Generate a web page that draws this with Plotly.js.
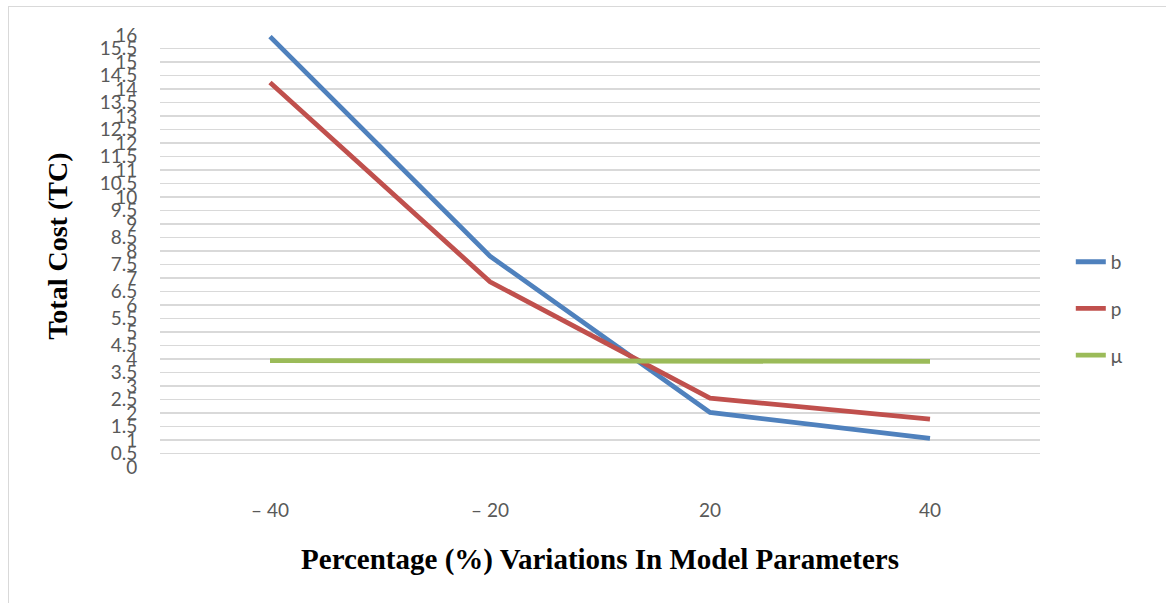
<!DOCTYPE html>
<html>
<head>
<meta charset="utf-8">
<script src="https://cdn.plot.ly/plotly-3.0.1.min.js"></script>
<style>
html,body{margin:0;padding:0;background:#fff;}
#frame{position:absolute;left:8px;top:6px;width:1160px;height:600px;border-left:1px solid #d9d9d9;border-top:1px solid #d9d9d9;}
#chart{position:absolute;left:0;top:0;width:1166px;height:603px;}
</style>
</head>
<body>
<div id="frame"></div>
<div id="chart"></div>
<script>
const categories = ["\u2013 40", "\u2013 20", "20", "40"];
const bValues = [15.94, 7.81, 2.02, 1.06];
const pValues = [14.24, 6.86, 2.55, 1.77];
const muValues = [3.94, 3.93, 3.92, 3.91];
const yTickVals = [];
for (let i = 0; i <= 32; i++) yTickVals.push(i / 2);
const yTickText = yTickVals.map(v => String(v));

const lineStyle = (color) => ({color: color, width: 4.8});
const traces = [
  {x: categories, y: bValues, name: "b", type: "scatter", mode: "lines", line: lineStyle("#4F81BD"), legendgroup: "b"},
  {x: categories, y: pValues, name: "p", type: "scatter", mode: "lines", line: lineStyle("#C0504D"), legendgroup: "p"},
  {x: categories, y: muValues, name: "\u03bc", type: "scatter", mode: "lines", line: lineStyle("#9BBB59"), legendgroup: "mu"}
];

const tickFont = {family: "Lato, 'Open Sans', sans-serif", size: 19, color: "#595959"};
const layout = {
  width: 1166, height: 603,
  margin: {l: 160, r: 126, t: 35, b: 136},
  paper_bgcolor: "rgba(0,0,0,0)",
  plot_bgcolor: "rgba(0,0,0,0)",
  showlegend: true,
  legend: {x: 1.035, y: 0.366, xanchor: "left", yanchor: "middle", tracegroupgap: 19,
           font: tickFont},
  xaxis: {
    type: "category", range: [-0.5, 3.5], showgrid: false, zeroline: false, showline: false,
    ticks: "outside", ticklen: 26, tickcolor: "rgba(0,0,0,0)",
    tickfont: tickFont,
    title: {text: "<b>Percentage (%) Variations In Model Parameters</b>", standoff: 28,
            font: {family: "'Liberation Serif', 'Times New Roman', serif", size: 29, color: "#000"}}
  },
  yaxis: {
    range: [0, 16], tickvals: yTickVals, ticktext: yTickText,
    showgrid: true, gridcolor: "#d9d9d9", gridwidth: 1.5, zeroline: false, showline: false,
    ticks: "outside", ticklen: 18, tickcolor: "rgba(0,0,0,0)",
    tickfont: tickFont,
    title: {text: ""}
  },
  annotations: [{
    text: "<b>Total Cost (TC)</b>", xref: "paper", yref: "paper",
    x: -0.116, y: 0.512, xanchor: "center", yanchor: "middle", textangle: -90, showarrow: false,
    font: {family: "'Liberation Serif', 'Times New Roman', serif", size: 28, color: "#000"}
  }]
};

Plotly.newPlot("chart", traces, layout, {displayModeBar: false, staticPlot: true});
</script>
</body>
</html>
